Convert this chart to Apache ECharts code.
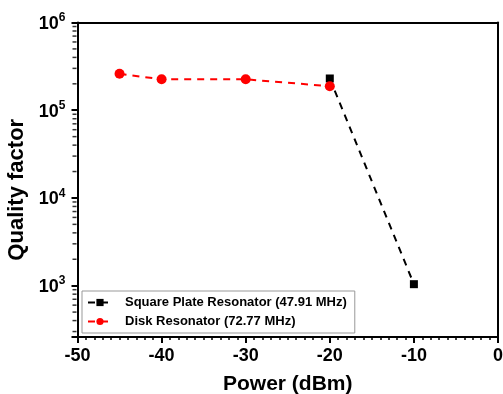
<!DOCTYPE html>
<html>
<head>
<meta charset="utf-8">
<script src="https://cdn.jsdelivr.net/npm/echarts@6/dist/echarts.min.js"></script>
<style>html,body{margin:0;padding:0;background:#fff}#c{width:503px;height:394px}</style>
</head>
<body>
<div id="c"></div>
<script>
const squarePower = [-20, -10];
const squareQ = [2.3e5, 1.04e3];
const diskPower = [-45, -40, -30, -20];
const diskQ = [2.6e5, 2.25e5, 2.25e5, 1.88e5];
const xTicks = [-50, -40, -30, -20, -10, 0];
const yDecades = [100, 1e3, 1e4, 1e5];
const yMinorMult = [2, 3, 4, 5, 6, 7, 8, 9];
const yMin = 260, yMax = 1e6;

const yMinor = [];
yDecades.forEach(d => yMinorMult.forEach(m => { const v = d * m; if (v >= yMin && v < yMax) yMinor.push(v); }));

const FONT = '"Liberation Sans", Arial, sans-serif';
const chart = echarts.init(document.getElementById('c'));
const frameLine = {show: true, onZero: false, lineStyle: {color: '#000', width: 2}};
chart.setOption({
  animation: false,
  grid: {left: 77.5, right: 5, top: 22.5, bottom: 57, outerBoundsMode: 'none'},
  legend: {
    orient: 'vertical', left: 82, top: 291,
    borderColor: '#999', borderWidth: 1, padding: [5, 8, 5, 5], itemGap: 6,
    itemWidth: 24, itemHeight: 9,
    textStyle: {fontFamily: FONT, fontWeight: 'bold', fontSize: 13, color: '#000', padding: [0, 0, 0, 8]},
    data: ['Square Plate Resonator (47.91 MHz)', 'Disk Resonator (72.77 MHz)']
  },
  xAxis: [{
    type: 'value', min: -50, max: 0, interval: 10, position: 'bottom',
    name: 'Power (dBm)', nameLocation: 'middle', nameGap: 37,
    nameTextStyle: {fontFamily: FONT, fontWeight: 'bold', fontSize: 21, color: '#000'},
    axisLine: frameLine,
    axisTick: {show: true, length: 6, lineStyle: {color: '#000', width: 2}},
    minorTick: {show: true, splitNumber: 10, length: 3, lineStyle: {color: '#000', width: 1.5}},
    splitLine: {show: false},
    axisLabel: {fontFamily: FONT, fontWeight: 'bold', fontSize: 18, color: '#000', margin: 10}
  }, {
    type: 'value', min: -50, max: 0, interval: 10, position: 'top',
    axisLine: frameLine, axisTick: {show: false}, axisLabel: {show: false}, splitLine: {show: false}
  }],
  yAxis: [{
    type: 'log', min: yMin, max: yMax, position: 'left',
    splitLine: {show: false},
    minorTick: {show: false},
    name: 'Quality factor', nameLocation: 'middle', nameGap: 44, nameRotate: 90,
    nameTextStyle: {fontFamily: FONT, fontWeight: 'bold', fontSize: 22, color: '#000', padding: [0, 20, 0, 0]},
    axisLine: frameLine,
    axisTick: {show: true, length: 6, lineStyle: {color: '#000', width: 2}},
    axisLabel: {
      margin: 12,
      formatter: v => {
        const e = Math.log10(v);
        if (Math.abs(e - Math.round(e)) > 1e-6) return '';
        return '{b|10}{s|' + Math.round(e) + '}';
      },
      rich: {
        b: {fontFamily: FONT, fontWeight: 'bold', fontSize: 18, color: '#000', verticalAlign: 'bottom'},
        s: {fontFamily: FONT, fontWeight: 'bold', fontSize: 12, color: '#000', verticalAlign: 'bottom', padding: [0, 0, 9, 0]}
      }
    }
  }, {
    type: 'log', min: yMin, max: yMax, position: 'right',
    axisLine: frameLine, axisTick: {show: false}, axisLabel: {show: false},
    splitLine: {show: false}, minorTick: {show: false}
  }],
  series: [
    {
      name: 'yMinorTicks', type: 'scatter', silent: true, clip: false, z: 1,
      data: yMinor.map(v => [-50, v]),
      symbol: 'rect', symbolSize: [4, 1.5], symbolOffset: [-3, 0],
      itemStyle: {color: '#000'}
    },
    {
      name: 'Square Plate Resonator (47.91 MHz)', type: 'line',
      data: squarePower.map((p, i) => [p, squareQ[i]]),
      symbol: 'rect', symbolSize: 8,
      itemStyle: {color: '#000'},
      lineStyle: {color: '#000', width: 2, type: [7, 6]}
    },
    {
      name: 'Disk Resonator (72.77 MHz)', type: 'line',
      data: diskPower.map((p, i) => [p, diskQ[i]]),
      symbol: 'circle', symbolSize: 10,
      itemStyle: {color: '#ff0000'},
      lineStyle: {color: '#ff0000', width: 2, type: [7, 6]}
    }
  ]
});
</script>
</body>
</html>
